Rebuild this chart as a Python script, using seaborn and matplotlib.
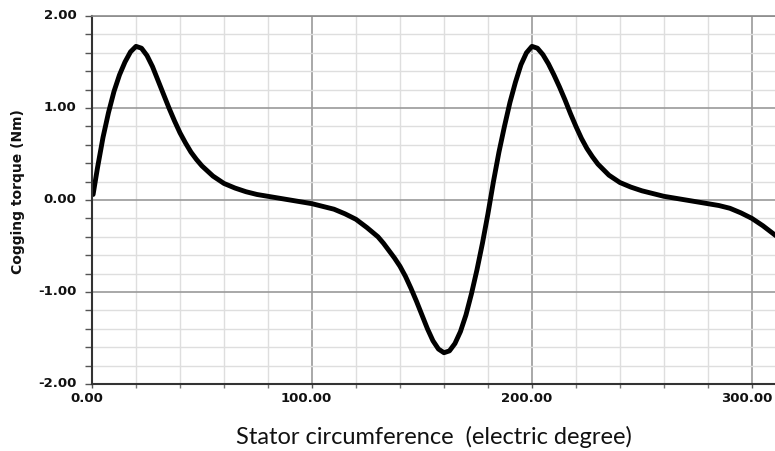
import numpy as np
import pandas as pd
import seaborn as sns
import matplotlib
matplotlib.use("Agg")
import matplotlib.pyplot as plt
from matplotlib.ticker import MultipleLocator, FormatStrFormatter
from matplotlib.transforms import ScaledTranslation

# ---- data ----
angle_deg = [0.5, 2.5, 5, 7.5, 10, 12.5, 15, 17.5, 20, 22.5, 25, 27.5, 30, 32.5, 35,
             37.5, 40, 42.5, 45, 47.5, 50, 55, 60, 65, 70, 75, 80, 85, 90, 95, 100,
             105, 110, 115, 120, 125, 130, 132.5, 135, 137.5, 140, 142.5, 145, 147.5,
             150, 152.5, 155, 157.5, 160, 162.5, 165, 167.5, 170, 172.5, 175, 177.5,
             180, 182.5, 185, 187.5, 190, 192.5, 195, 197.5, 200, 202.5, 205, 207.5,
             210, 212.5, 215, 217.5, 220, 222.5, 225, 227.5, 230, 235, 240, 245, 250,
             255, 260, 265, 270, 275, 280, 285, 290, 295, 300, 305, 311]
torque_nm = [0.06, 0.35, 0.68, 0.95, 1.18, 1.36, 1.50, 1.61, 1.67, 1.65, 1.57, 1.45,
             1.30, 1.15, 1.00, 0.86, 0.73, 0.62, 0.52, 0.44, 0.37, 0.26, 0.18, 0.13,
             0.09, 0.06, 0.04, 0.02, 0.00, -0.02, -0.04, -0.07, -0.10, -0.15, -0.21,
             -0.30, -0.40, -0.47, -0.55, -0.63, -0.72, -0.83, -0.96, -1.10, -1.25,
             -1.40, -1.53, -1.62, -1.66, -1.64, -1.56, -1.43, -1.25, -1.02, -0.76,
             -0.47, -0.15, 0.20, 0.52, 0.80, 1.06, 1.28, 1.47, 1.60, 1.67, 1.65, 1.58,
             1.48, 1.36, 1.23, 1.09, 0.94, 0.80, 0.67, 0.56, 0.47, 0.39, 0.27, 0.19,
             0.14, 0.10, 0.07, 0.04, 0.02, 0.00, -0.02, -0.04, -0.06, -0.09, -0.14,
             -0.20, -0.28, -0.39]
x_ticks = [0, 100, 200, 300]
y_ticks = [-2, -1, 0, 1, 2]
x_label = "Stator circumference  (electric degree)"
y_label = "Cogging torque (Nm)"

df = pd.DataFrame({"angle": angle_deg, "torque": torque_nm})

sns.set_theme(style="white")
plt.rcParams["font.family"] = ["DejaVu Sans"]

W, H, DPI = 775, 452, 100
fig = plt.figure(figsize=(W / DPI, H / DPI), dpi=DPI)
left, right, top, bottom = 92, 775, 17, 385
ax = fig.add_axes([left / W, 1 - bottom / H, (right - left) / W, (bottom - top) / H])

sns.lineplot(data=df, x="angle", y="torque", color="black", linewidth=3.5, ax=ax,
             sort=True, estimator=None, solid_joinstyle="round", solid_capstyle="round")

ax.set_xlim(0, 310.5)
ax.set_ylim(-2, 2)
ax.xaxis.set_minor_locator(MultipleLocator(20))
ax.yaxis.set_minor_locator(MultipleLocator(0.2))
ax.set_xticks(x_ticks)
ax.set_yticks(y_ticks)
ax.xaxis.set_major_formatter(FormatStrFormatter("%.2f"))
ax.yaxis.set_major_formatter(FormatStrFormatter("%.2f"))

ax.grid(which="major", color="#9a9a9a", linewidth=1.2)
ax.grid(which="minor", color="#dedede", linewidth=1.0)
ax.set_axisbelow(True)

for s in ["left", "bottom"]:
    ax.spines[s].set_color("#333333")
    ax.spines[s].set_linewidth(1.5)
ax.spines["top"].set_color("#8a8a8a")
ax.spines["top"].set_linewidth(1.2)
ax.spines["right"].set_visible(False)

ax.tick_params(axis="y", which="both", direction="out", length=5, width=1.0,
               color="#555555", left=True, pad=6)
ax.tick_params(axis="x", which="major", direction="out", length=3, width=1.0,
               color="#555555", bottom=True, pad=2)
ax.tick_params(axis="x", which="minor", direction="out", length=3, width=1.0,
               color="#777777", bottom=True)
for lab in ax.get_yticklabels():
    lab.set_fontsize(9.5)
    lab.set_fontweight("bold")
    lab.set_color("#111111")
    lab.set_transform(lab.get_transform() + ScaledTranslation(0, 2 / 72, fig.dpi_scale_trans))
for lab in ax.get_xticklabels():
    lab.set_fontsize(9.5)
    lab.set_fontweight("bold")
    lab.set_color("#111111")
    lab.set_transform(lab.get_transform() + ScaledTranslation(-4 / 72, 0, fig.dpi_scale_trans))

ax.set_xlabel(x_label, fontsize=17, family=["Lato", "DejaVu Sans"], color="#111111")
ax.xaxis.set_label_coords(0.5, -(437 - bottom) / (bottom - top), transform=ax.transAxes)
ax.xaxis.label.set_va("center")
ax.set_ylabel(y_label, fontsize=10, fontweight="bold", color="#111111")
ax.yaxis.set_label_coords(-(left - 18) / (right - left), (bottom - 192) / (bottom - top))
ax.yaxis.label.set_va("center")

fig.savefig("out.png", dpi=DPI)
